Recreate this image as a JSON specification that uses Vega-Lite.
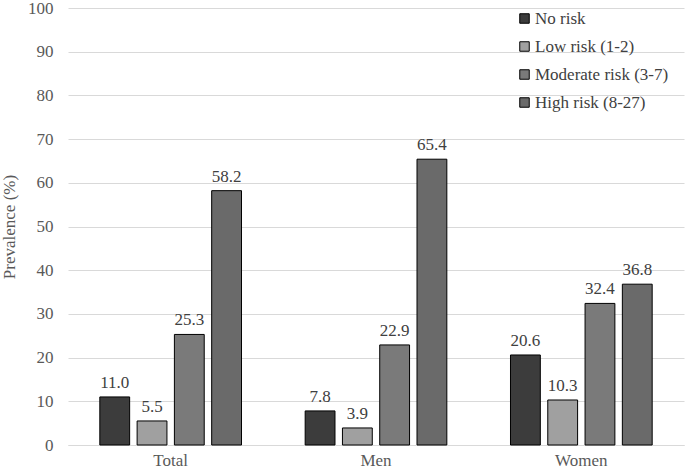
{
  "$schema": "https://vega.github.io/schema/vega-lite/v6.json",
  "autosize": {"type": "none"},
  "width": 616,
  "height": 437,
  "padding": {"left": 68, "top": 8, "right": 1, "bottom": 27},
  "background": "white",
  "config": {
    "font": "'Liberation Serif', serif",
    "view": {"stroke": null},
    "axis": {"labelFont": "'Liberation Serif', serif", "titleFont": "'Liberation Serif', serif", "labelFontSize": 17, "titleFontSize": 17, "labelColor": "#595959", "titleColor": "#595959", "titleFontWeight": "normal"}
  },
  "data": {
    "values": [
      {"group": "Total", "risk": "No risk", "value": 11.0},
      {"group": "Total", "risk": "Low risk (1-2)", "value": 5.5},
      {"group": "Total", "risk": "Moderate risk (3-7)", "value": 25.3},
      {"group": "Total", "risk": "High risk (8-27)", "value": 58.2},
      {"group": "Men", "risk": "No risk", "value": 7.8},
      {"group": "Men", "risk": "Low risk (1-2)", "value": 3.9},
      {"group": "Men", "risk": "Moderate risk (3-7)", "value": 22.9},
      {"group": "Men", "risk": "High risk (8-27)", "value": 65.4},
      {"group": "Women", "risk": "No risk", "value": 20.6},
      {"group": "Women", "risk": "Low risk (1-2)", "value": 10.3},
      {"group": "Women", "risk": "Moderate risk (3-7)", "value": 32.4},
      {"group": "Women", "risk": "High risk (8-27)", "value": 36.8}
    ]
  },
  "encoding": {
    "x": {
      "field": "group", "type": "nominal", "sort": ["Total", "Men", "Women"],
      "scale": {"paddingInner": 0.31, "paddingOuter": 0.155},
      "axis": {"title": null, "labelAngle": 0, "ticks": false, "domainColor": "#d9d9d9", "domainWidth": 1, "labelPadding": 7}
    },
    "xOffset": {
      "field": "risk", "type": "nominal",
      "sort": ["No risk", "Low risk (1-2)", "Moderate risk (3-7)", "High risk (8-27)"],
      "scale": {"paddingInner": 0.2, "paddingOuter": 0}
    },
    "y": {
      "field": "value", "type": "quantitative",
      "scale": {"domain": [0, 100]},
      "axis": {"title": "Prevalence (%)", "values": [0, 10, 20, 30, 40, 50, 60, 70, 80, 90, 100], "labelOverlap": false, "domain": false, "ticks": false, "gridColor": "#d9d9d9", "labelPadding": 15, "titlePadding": 9}
    }
  },
  "layer": [
    {
      "mark": {"type": "bar", "stroke": "black", "strokeWidth": 1},
      "encoding": {
        "fill": {
          "field": "risk", "type": "nominal",
          "sort": ["No risk", "Low risk (1-2)", "Moderate risk (3-7)", "High risk (8-27)"],
          "scale": {"domain": ["No risk", "Low risk (1-2)", "Moderate risk (3-7)", "High risk (8-27)"], "range": ["#3c3c3c", "#a0a0a0", "#7a7a7a", "#6a6a6a"]},
          "legend": {
            "title": null, "orient": "none", "legendX": 448, "legendY": 2,
            "symbolType": "square", "symbolSize": 90, "symbolStrokeColor": "black", "symbolStrokeWidth": 1,
            "labelFont": "'Liberation Serif', serif", "labelFontSize": 17, "labelColor": "#404040",
            "rowPadding": 10, "labelOffset": 2
          }
        }
      }
    },
    {
      "mark": {"type": "text", "baseline": "bottom", "dy": -5, "fontSize": 17, "font": "'Liberation Serif', serif", "color": "#404040"},
      "encoding": {
        "text": {"field": "value", "type": "quantitative", "format": ".1f"}
      }
    }
  ]
}
